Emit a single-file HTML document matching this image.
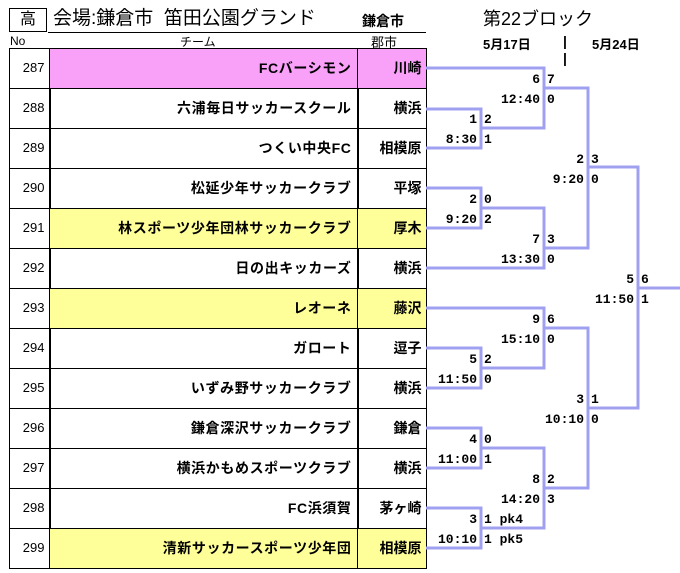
<!DOCTYPE html>
<html><head><meta charset="utf-8"><style>
body{margin:0;width:680px;height:573px;background:#fff;position:relative;overflow:hidden;font-family:"Liberation Sans","Noto Sans CJK JP",sans-serif;color:#000}
.a{position:absolute;white-space:nowrap}
.c{position:absolute;box-sizing:border-box;border:1.5px solid #000;height:41.5px;line-height:38px;white-space:nowrap}
.n{left:9px;width:41.5px;text-align:right;padding-right:5px;font-size:13px}
.t{left:49px;width:309.5px;text-align:right;padding-right:6px;font-weight:bold;font-size:14px;letter-spacing:0.6px}
.k{left:357px;width:69.5px;text-align:right;padding-right:4px;font-weight:bold;font-size:14px}
.s{position:absolute;font-family:"Liberation Mono",monospace;font-weight:bold;font-size:13px;line-height:14px;white-space:nowrap}
.l{text-align:right;width:60px}
</style></head><body>
<div class="a" style="left:9px;top:8px;width:36px;height:22px;border:1.5px solid #000;font-size:16px;text-align:center;line-height:22px">高</div>
<div class="a" style="left:53px;top:7px;font-size:19px;line-height:24px">会場:鎌倉市&nbsp;&nbsp;笛田公園グランド</div>
<div class="a" style="left:362px;top:11px;font-size:14px;font-weight:bold;line-height:20px">鎌倉市</div>
<div class="a" style="left:48px;top:32px;width:378px;border-top:1.5px solid #000"></div>
<div class="a" style="left:483px;top:7px;font-size:18px;line-height:24px">第22ブロック</div>
<div class="a" style="left:10px;top:34px;font-size:12px">No</div>
<div class="a" style="left:180px;top:33px;font-size:12px">チーム</div>
<div class="a" style="left:371px;top:32px;font-size:13px">郡市</div>
<div class="a" style="left:483px;top:34px;font-size:13px;font-weight:bold">5月17日</div>
<div class="a" style="left:563px;top:33px;font-size:14px;font-weight:bold">|</div>
<div class="a" style="left:563px;top:50px;font-size:14px;font-weight:bold">|</div>
<div class="a" style="left:592px;top:34px;font-size:13px;font-weight:bold">5月24日</div>
<div id="T"></div>
<svg class="a" style="left:0;top:0" width="680" height="573"><g fill="none" stroke="#a0a0f0" stroke-width="3">
<polyline points="426,68 544,68 544,128 481,128"/>
<polyline points="426,109 481,109 481,148 426,148"/>
<polyline points="544,88 588,88 588,248 544,248"/>
<polyline points="426,188 481,188 481,228 426,228"/>
<polyline points="481,208 544,208 544,268 426,268"/>
<polyline points="588,167 638,167 638,408 588,408"/>
<line x1="638" y1="288" x2="680" y2="288"/>
<polyline points="426,308 544,308 544,368 481,368"/>
<polyline points="426,348 481,348 481,388 426,388"/>
<polyline points="544,328 588,328 588,488 544,488"/>
<polyline points="426,428 481,428 481,468 426,468"/>
<polyline points="481,448 544,448 544,528 481,528"/>
<polyline points="426,508 481,508 481,548 426,548"/>
</g></svg>
<div id="L"></div>
<script>
var rows=[["287","FCバーシモン","川崎","#f9a0f9"],["288","六浦毎日サッカースクール","横浜"],["289","つくい中央FC","相模原"],["290","松延少年サッカークラブ","平塚"],["291","林スポーツ少年団林サッカークラブ","厚木","#ffff99"],["292","日の出キッカーズ","横浜"],["293","レオーネ","藤沢","#ffff99"],["294","ガロート","逗子"],["295","いずみ野サッカークラブ","横浜"],["296","鎌倉深沢サッカークラブ","鎌倉"],["297","横浜かもめスポーツクラブ","横浜"],["298","FC浜須賀","茅ヶ崎"],["299","清新サッカースポーツ少年団","相模原","#ffff99"]];
var t="";rows.forEach(function(r,i){var y=47.5+i*40;var bg=r[3]?'background:'+r[3]+';':'';
t+='<div class="c n" style="top:'+y+'px">'+r[0]+'</div><div class="c t" style="top:'+y+'px;'+bg+'">'+r[1]+'</div><div class="c k" style="top:'+y+'px;'+bg+'">'+r[2]+'</div>';});
document.getElementById("T").innerHTML=t;
var d=[[544,80,"6","7"],[544,100,"12:40","0"],[481,120,"1","2"],[481,140,"8:30","1"],[588,160,"2","3"],[588,180,"9:20","0"],[481,200,"2","0"],[481,220,"9:20","2"],[544,240,"7","3"],[544,260,"13:30","0"],[638,280,"5","6"],[638,300,"11:50","1"],[544,320,"9","6"],[544,340,"15:10","0"],[481,360,"5","2"],[481,380,"11:50","0"],[588,400,"3","1"],[588,420,"10:10","0"],[481,440,"4","0"],[481,460,"11:00","1"],[544,480,"8","2"],[544,500,"14:20","3"],[481,520,"3","1 pk4"],[481,540,"10:10","1 pk5"]];
var h="";d.forEach(function(r){h+='<div class="s l" style="left:'+(r[0]-64)+'px;top:'+(r[1]-7)+'px">'+r[2]+'</div><div class="s" style="left:'+(r[0]+3)+'px;top:'+(r[1]-7)+'px">'+r[3]+'</div>';});
document.getElementById("L").innerHTML=h;
</script>
</body></html>
